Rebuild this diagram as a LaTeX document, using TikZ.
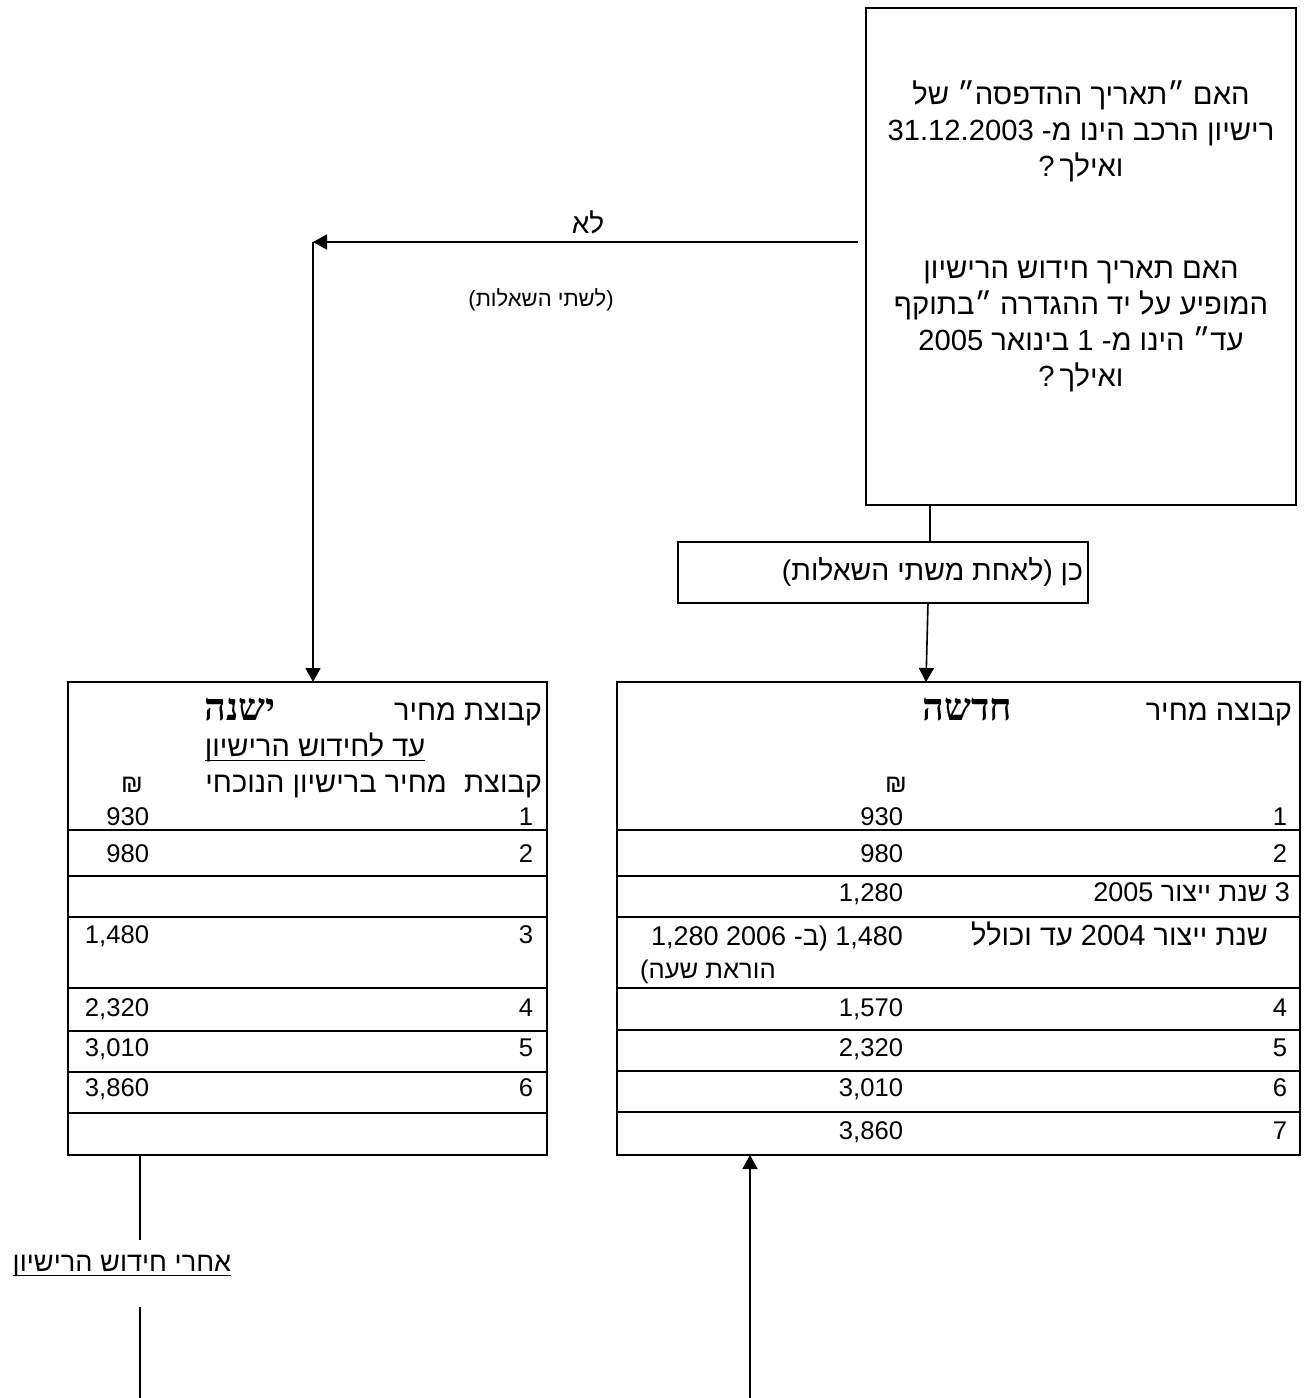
\documentclass[tikz,border=0pt]{standalone}
\usepackage{fontspec}
\setmainfont{Liberation Sans}
\newfontfamily\heb[Script=Hebrew]{Liberation Sans}
\newfontfamily\hebser[Script=Hebrew]{Liberation Serif}
\TeXXeTstate=1
\usetikzlibrary{arrows.meta}
\newcommand\rtl[1]{\beginR #1\endR}
\begin{document}
\begin{tikzpicture}[x=0.5pt,y=-0.5pt,
  frame/.style={draw,line width=1pt,inner sep=0pt,outer sep=0pt,anchor=north west},
  rule/.style={line width=1pt},
  conn/.style={line width=0.8pt},
  arr/.style={conn,-{Triangle[width=7.5pt,length=7pt]}},
  txt/.style={font=\heb\fontsize{12.8}{15}\selectfont,inner sep=0pt,outer sep=0pt},
  htxt/.style={font=\heb\fontsize{14.5}{17}\selectfont,inner sep=0pt,outer sep=0pt},
  mtxt/.style={font=\heb\fontsize{13.5}{16}\selectfont,inner sep=0pt,outer sep=0pt},
  qtxt/.style={font=\heb\fontsize{14.6}{18}\selectfont,inner sep=0pt,align=center},
  big/.style={font=\hebser\bfseries\fontsize{19}{21}\selectfont,inner sep=0pt},
  val/.style={txt,anchor=base east},
  lab/.style={txt,anchor=base east},
]
\useasboundingbox (0,0) rectangle (1304,1398);
\fill[white] (0,0) rectangle (1304,1398);

% question box
\node[frame,minimum width=215pt,minimum height=248.5pt] (q) at (866,8) {};
\node[qtxt] (q1) at (1081,131) {\rtl{האם ״תאריך ההדפסה״ של}\\\rtl{רישיון הרכב הינו מ- 31.12.2003}\\\rtl{ואילך\,?}};
\node[qtxt] (q2) at (1081,326) {\rtl{האם תאריך חידוש הרישיון}\\\rtl{המופיע על יד ההגדרה ״בתוקף}\\\rtl{עד״ הינו מ- 1 בינואר 2005}\\\rtl{ואילך\,?}};

% yes box
\node[frame,line width=0.8pt,minimum width=205pt,minimum height=30.5pt] (cn) at (678,542) {};
\node[txt,font=\heb\fontsize{14.2}{16}\selectfont,anchor=base east] (cnt) at (1083,580) {\rtl{כן (לאחת משתי השאלות)}};

% no labels
\node[txt,font=\heb\fontsize{14}{16}\selectfont,anchor=base] (no) at (588,233) {\rtl{לא}};
\node[txt,font=\heb\fontsize{11}{13}\selectfont,anchor=base] (no2) at (541,306) {\rtl{(לשתי השאלות)}};

% left table
\node[frame,minimum width=239.5pt,minimum height=236.5pt] (lt) at (68,682) {};
\foreach \yy in {830,876,917,988,1031,1072,1113}{\draw[rule] (68,\yy) -- (547,\yy);}
\node[htxt,anchor=base east] (lh1) at (542,720) {\rtl{קבוצת מחיר}};
\node[big,anchor=base] (lh2) at (240,720) {\rtl{ישנה}};
\node[htxt,anchor=base] (lh3) at (315,756) {\rtl{עד לחידוש הרישיון}};
\draw[line width=0.8pt] ([yshift=-2.2pt]lh3.base west) -- ([yshift=-2.2pt]lh3.base east);
\node[htxt,anchor=base east] (lh4) at (542,792) {\rtl{קבוצת\hspace{0.6em}מחיר ברישיון הנוכחי}};
\node[txt,anchor=base west] (lsh) at (121,792) {₪};
\node[val] (l1v) at (149,825) {930};   \node[lab] (l1n) at (533,825) {1};
\node[val] (l2v) at (149,862) {980};   \node[lab] (l2n) at (533,862) {2};
\node[val] (l3v) at (149,943) {1,480}; \node[lab] (l3n) at (533,943) {3};
\node[val] (l4v) at (149,1016) {2,320}; \node[lab] (l4n) at (533,1016) {4};
\node[val] (l5v) at (149,1056) {3,010}; \node[lab] (l5n) at (533,1056) {5};
\node[val] (l6v) at (149,1096) {3,860}; \node[lab] (l6n) at (533,1096) {6};

% right table
\node[frame,minimum width=341.5pt,minimum height=236.5pt] (rt) at (617,682) {};
\foreach \yy in {830,876,917,988,1030,1071,1112}{\draw[rule] (617,\yy) -- (1300,\yy);}
\node[htxt,anchor=base east] (rh1) at (1292,720) {\rtl{קבוצה מחיר}};
\node[big,anchor=base] (rh2) at (967,720) {\rtl{חדשה}};
\node[txt,anchor=base] (rsh) at (896,792) {₪};
\node[val] (r1v) at (903,825) {930};   \node[lab] (r1n) at (1287,825) {1};
\node[val] (r2v) at (903,862) {980};   \node[lab] (r2n) at (1287,862) {2};
\node[val] (r3v) at (903,901) {1,280};
\node[mtxt,anchor=base east] (r3n) at (1290,901) {\rtl{3 שנת ייצור 2005}};
\node[mtxt,anchor=base east] (r3bv) at (903,945) {\rtl{1,480 (ב- 2006 1,280}};
\node[htxt,anchor=base east] (r3bn) at (1268,945) {\rtl{שנת ייצור 2004 עד וכולל}};
\node[txt,anchor=base west] (r3bw) at (640,978) {\rtl{הוראת שעה)}};
\node[val] (r4v) at (903,1016) {1,570}; \node[lab] (r4n) at (1287,1016) {4};
\node[val] (r5v) at (903,1056) {2,320}; \node[lab] (r5n) at (1287,1056) {5};
\node[val] (r6v) at (903,1096) {3,010}; \node[lab] (r6n) at (1287,1096) {6};
\node[val] (r7v) at (903,1139) {3,860}; \node[lab] (r7n) at (1287,1139) {7};

% bottom label
\node[txt,font=\heb\fontsize{13.6}{15}\selectfont,anchor=base] (after) at (122,1271) {\rtl{אחרי חידוש הרישיון}};
\draw[line width=0.8pt] ([yshift=-2.2pt]after.base west) -- ([yshift=-2.2pt]after.base east);

% connectors
\draw[conn] (930,0 |- q.south) -- (930,0 |- cn.north);
\draw[arr] (928,0 |- cn.south) -- (926,0 |- rt.north);
\coordinate (nostart) at (858,242);
\coordinate (corner) at (313,242);
\draw[arr] (nostart) -- (corner);
\draw[arr] (corner) -- (corner |- lt.north);
\coordinate (b1) at (140,1240);
\coordinate (b2) at (140,1307);
\coordinate (b3) at (140,1398);
\draw[conn] (140,0 |- lt.south) -- (b1);
\draw[conn] (b2) -- (b3);
\coordinate (rb) at (750,1398);
\draw[arr] (rb) -- (rb |- rt.south);
\end{tikzpicture}
\end{document}
